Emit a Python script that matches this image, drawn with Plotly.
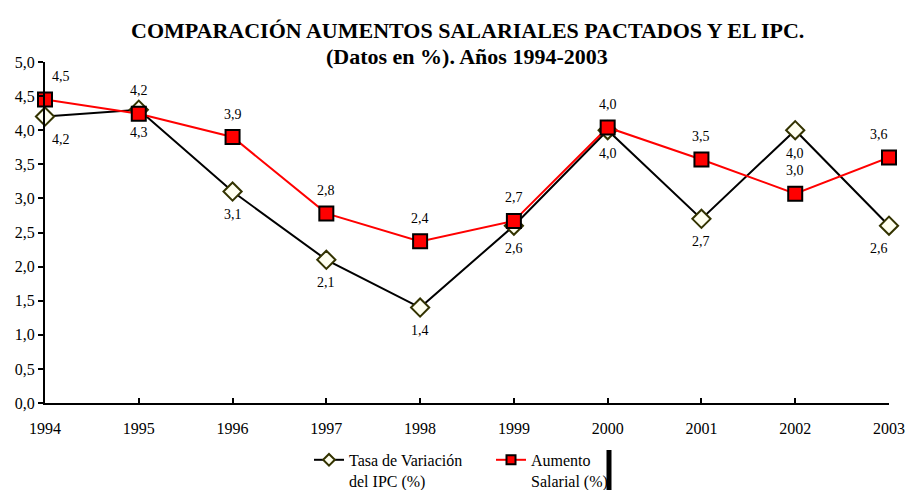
import plotly.graph_objects as go

years = [1994, 1995, 1996, 1997, 1998, 1999, 2000, 2001, 2002, 2003]
ipc = [4.2, 4.3, 3.1, 2.1, 1.4, 2.6, 4.0, 2.7, 4.0, 2.6]
ipc_labels = ["4,2", "4,3", "3,1", "2,1", "1,4", "2,6", "4,0", "2,7", "4,0", "2,6"]
salarial = [4.45, 4.24, 3.9, 2.78, 2.37, 2.67, 4.04, 3.57, 3.07, 3.6]
sal_labels = ["4,5", "4,2", "3,9", "2,8", "2,4", "2,7", "4,0", "3,5", "3,0", "3,6"]
y_ticks = [0, 0.5, 1, 1.5, 2, 2.5, 3, 3.5, 4, 4.5, 5]
y_tick_text = ["0,0", "0,5", "1,0", "1,5", "2,0", "2,5", "3,0", "3,5", "4,0", "4,5", "5,0"]

FONT = "Liberation Serif, Times New Roman, serif"

ipc_marker = dict(symbol="diamond", color="#FFFFF0", line=dict(color="#333300", width=2))
sal_marker = dict(symbol="square", color="red", line=dict(color="black", width=2))

fig = go.Figure()
fig.add_trace(go.Scatter(
    x=years, y=ipc, mode="lines+markers", showlegend=False,
    line=dict(color="black", width=2),
    marker=dict(size=14, **ipc_marker), cliponaxis=False,
))
fig.add_trace(go.Scatter(
    x=years, y=salarial, mode="lines+markers", showlegend=False,
    line=dict(color="red", width=2),
    marker=dict(size=14, **sal_marker), cliponaxis=False,
))
# legend-only traces with smaller markers
fig.add_trace(go.Scatter(
    x=[None], y=[None], mode="lines+markers",
    name="Tasa de Variación<br>del IPC (%)",
    line=dict(color="black", width=2), marker=dict(size=9, **ipc_marker),
))
fig.add_trace(go.Scatter(
    x=[None], y=[None], mode="lines+markers",
    name="Aumento<br>Salarial (%)",
    line=dict(color="red", width=2), marker=dict(size=9, **sal_marker),
))

n = len(years)
for i, (yr, v, t) in enumerate(zip(years, salarial, sal_labels)):
    xs = 16 if i == 0 else (-10 if i == n - 1 else 0)
    fig.add_annotation(x=yr, y=v, text=t, showarrow=False, yshift=23, xshift=xs,
                       font=dict(family=FONT, size=14, color="black"))
for i, (yr, v, t) in enumerate(zip(years, ipc, ipc_labels)):
    xs = 16 if i == 0 else (-10 if i == n - 1 else 0)
    fig.add_annotation(x=yr, y=v, text=t, showarrow=False, yshift=-23, xshift=xs,
                       font=dict(family=FONT, size=14, color="black"))

# Title as two lines
fig.add_annotation(xref="paper", yref="paper", x=0.5, y=1 + 32 / 341, yanchor="middle",
                   text="<b>COMPARACIÓN AUMENTOS SALARIALES PACTADOS Y EL IPC.</b>",
                   showarrow=False, font=dict(family=FONT, size=22, color="black"))
fig.add_annotation(xref="paper", yref="paper", x=0.5, y=1 + 6 / 341, yanchor="middle",
                   text="<b>(Datos en %). Años 1994-2003</b>",
                   showarrow=False, font=dict(family=FONT, size=22, color="black"))

fig.update_layout(
    width=907, height=490,
    paper_bgcolor="white", plot_bgcolor="white",
    margin=dict(l=45, r=18, t=62, b=87, autoexpand=False),
    font=dict(family=FONT, size=16, color="black"),
    xaxis=dict(
        range=[1994, 2003], tickmode="array", tickvals=years,
        ticktext=[str(y) for y in years], automargin=False,
        showline=True, linecolor="black", linewidth=2,
        ticks="inside", ticklen=5, tickcolor="black", tickwidth=2,
        ticklabelstandoff=10,
        showgrid=False, zeroline=False,
        tickfont=dict(family=FONT, size=16),
    ),
    yaxis=dict(
        range=[0, 5], tickmode="array", tickvals=y_ticks, ticktext=y_tick_text,
        automargin=False,
        showline=True, linecolor="black", linewidth=2,
        ticks="outside", ticklen=5, tickcolor="black", tickwidth=2,
        showgrid=False, zeroline=False,
        tickfont=dict(family=FONT, size=16),
    ),
    legend=dict(
        orientation="h", x=(309 - 45) / 844, xanchor="left", y=-0.117, yanchor="top",
        font=dict(family=FONT, size=16), bgcolor="rgba(0,0,0,0)",
        entrywidth=137, entrywidthmode="pixels", valign="top",
    ),
)

# Black vertical bar at the right of the legend
fig.add_shape(type="line", xref="paper", yref="paper",
              x0=(609 - 45) / 844, x1=(609 - 45) / 844,
              y0=(403 - 450) / 341, y1=(403 - 490) / 341,
              line=dict(color="black", width=5))

fig.write_html("out.html", config={"displayModeBar": False},
               post_script="document.body.style.margin='0';")
